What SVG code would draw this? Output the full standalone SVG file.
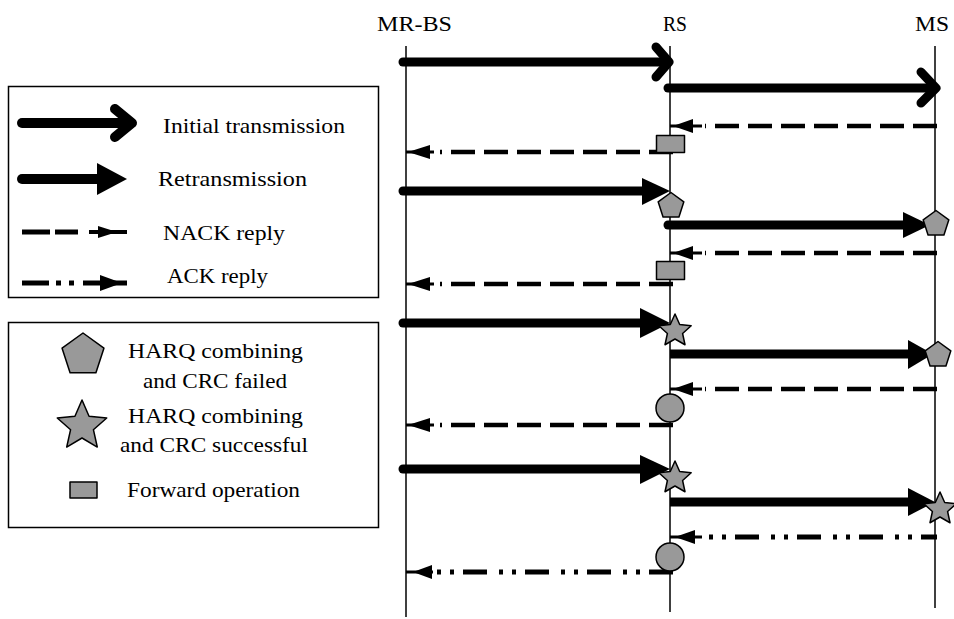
<svg xmlns="http://www.w3.org/2000/svg" width="954" height="619" viewBox="0 0 954 619">
<style>
  .t { font-family: 'Liberation Serif', 'Times New Roman', serif; font-size: 22px; fill: #000; }
  .life { stroke: #000; stroke-width: 1.5; fill: none; }
  .box { stroke: #000; stroke-width: 1.5; fill: #fff; }
  .thick { stroke: #000; stroke-width: 9; fill: none; stroke-linecap: round; stroke-linejoin: round; }
  .thickb { stroke: #000; stroke-width: 9; fill: none; stroke-linecap: butt; }
  .head { fill: #000; stroke: none; }
  .nack { stroke: #000; stroke-width: 4.5; fill: none; stroke-dasharray: 24 9; }
  .ack { stroke: #000; stroke-width: 5; fill: none; stroke-dasharray: 24 9 4 9 4 12; }
  .tail { stroke: #000; stroke-width: 3; fill: none; }
  .thin { stroke: #000; stroke-width: 1.5; fill: none; }
  .sym { fill: #999; stroke: #000; stroke-width: 1.5; stroke-linejoin: round; }
</style>
<defs>
  <polygon id="pent" points="0,-13.5 12.84,-4.17 7.94,10.92 -7.94,10.92 -12.84,-4.17"/>
  <polygon id="star" points="0,-17 4.7,-6.47 16.17,-5.25 7.6,2.47 9.99,13.75 0,8 -9.99,13.75 -7.6,2.47 -16.17,-5.25 -4.7,-6.47"/>
</defs>
<rect width="954" height="619" fill="#fff"/>

<g id="lifeline-mrbs">
  <text class="t" x="377" y="31" textLength="75" lengthAdjust="spacingAndGlyphs">MR-BS</text>
  <line class="life" x1="406" y1="46" x2="406" y2="617"/>
</g>
<g id="lifeline-rs">
  <text class="t" x="663" y="31" textLength="24" lengthAdjust="spacingAndGlyphs">RS</text>
  <line class="life" x1="670" y1="46" x2="670" y2="612"/>
</g>
<g id="lifeline-ms">
  <text class="t" x="915" y="31" textLength="34" lengthAdjust="spacingAndGlyphs">MS</text>
  <line class="life" x1="935" y1="46" x2="935" y2="608"/>
</g>

<g id="legend-arrows">
  <rect class="box" x="8.5" y="86.5" width="370" height="211"/>
  <line class="thick" x1="22" y1="123" x2="130" y2="123" style="stroke-width:10"/>
  <polyline class="thick" points="115,109 132,123 115,137" style="stroke-width:10"/>
  <text class="t" x="163" y="133" textLength="182" lengthAdjust="spacingAndGlyphs">Initial transmission</text>
  <line class="thick" x1="22" y1="179" x2="100" y2="179" style="stroke-width:10"/>
  <polygon class="head" points="97,163 127,179 97,195"/>
  <text class="t" x="158" y="186" textLength="149" lengthAdjust="spacingAndGlyphs">Retransmission</text>
  <line class="thin" x1="22" y1="232" x2="50" y2="232" style="stroke-width:5"/>
  <line class="thin" x1="55" y1="232" x2="78" y2="232" style="stroke-width:5"/>
  <line class="thin" x1="89" y1="232" x2="127" y2="232" style="stroke-width:4"/>
  <polygon class="head" points="98,226 117,232 98,238"/>
  <text class="t" x="163" y="240" textLength="122" lengthAdjust="spacingAndGlyphs">NACK reply</text>
  <line class="thin" x1="22" y1="283" x2="49" y2="283" style="stroke-width:5"/>
  <line class="thin" x1="56" y1="283" x2="61" y2="283" style="stroke-width:5"/>
  <line class="thin" x1="69" y1="283" x2="74" y2="283" style="stroke-width:5"/>
  <line class="thin" x1="83" y1="283" x2="127" y2="283" style="stroke-width:5"/>
  <polygon class="head" points="100,275 122,283 100,291"/>
  <text class="t" x="167" y="283" textLength="101" lengthAdjust="spacingAndGlyphs">ACK reply</text>
</g>

<g id="legend-symbols">
  <rect class="box" x="8.5" y="322.5" width="370" height="205"/>
  <polygon class="sym" points="83,333 103.92,348.2 95.93,372.8 70.07,372.8 62.08,348.2"/>
  <text class="t" x="128" y="358" textLength="175" lengthAdjust="spacingAndGlyphs">HARQ combining</text>
  <text class="t" x="143" y="388" textLength="144" lengthAdjust="spacingAndGlyphs">and CRC failed</text>
  <polygon class="sym" points="82,400 89.05,416.29 106.73,417.97 93.41,429.71 97.28,447.03 82,438 66.72,447.03 70.59,429.71 57.27,417.97 74.95,416.29"/>
  <text class="t" x="128" y="423" textLength="175" lengthAdjust="spacingAndGlyphs">HARQ combining</text>
  <text class="t" x="120" y="452" textLength="188" lengthAdjust="spacingAndGlyphs">and CRC successful</text>
  <rect class="sym" x="70" y="482" width="27" height="16"/>
  <text class="t" x="127" y="497" textLength="173" lengthAdjust="spacingAndGlyphs">Forward operation</text>
</g>

<g id="connectors">
  <line class="thick" x1="403" y1="62" x2="667" y2="62"/>
  <polyline class="thick" points="656,47 669,62 656,77"/>
  <line class="thick" x1="668" y1="88" x2="934" y2="88"/>
  <polyline class="thick" points="921,72 936,88 921,103"/>
  <line class="nack" x1="937" y1="126" x2="705" y2="126"/>
  <line class="tail" x1="670" y1="126" x2="702" y2="126"/>
  <polygon class="head" points="673,126 693,119 693,133"/>
  <line class="nack" x1="673" y1="152" x2="440" y2="152"/>
  <line class="tail" x1="406" y1="152" x2="434" y2="152"/>
  <polygon class="head" points="408,152 430,145 430,159"/>
  <line class="thick" x1="403" y1="191" x2="645" y2="191"/>
  <polygon class="head" points="642,178 670,191 642,205"/>
  <line class="thick" x1="668" y1="225" x2="905" y2="225"/>
  <polygon class="head" points="903,212 930,225 903,238"/>
  <line class="nack" x1="937" y1="253" x2="705" y2="253"/>
  <line class="tail" x1="670" y1="253" x2="702" y2="253"/>
  <polygon class="head" points="673,253 693,246 693,260"/>
  <line class="nack" x1="673" y1="284" x2="440" y2="284"/>
  <line class="tail" x1="406" y1="284" x2="434" y2="284"/>
  <polygon class="head" points="408,284 430,277 430,291"/>
  <line class="thick" x1="403" y1="323" x2="643" y2="323"/>
  <polygon class="head" points="640,308 670,323 640,338"/>
  <line class="thickb" x1="670" y1="354" x2="910" y2="354"/>
  <polygon class="head" points="908,340 933,354 908,369"/>
  <line class="nack" x1="937" y1="389" x2="705" y2="389"/>
  <line class="tail" x1="670" y1="389" x2="702" y2="389"/>
  <polygon class="head" points="673,389 693,382 693,396"/>
  <line class="nack" x1="673" y1="425" x2="440" y2="425"/>
  <line class="tail" x1="406" y1="425" x2="434" y2="425"/>
  <polygon class="head" points="408,425 430,418 430,432"/>
  <line class="thick" x1="403" y1="469" x2="643" y2="469"/>
  <polygon class="head" points="640,455 670,469 640,484"/>
  <line class="thickb" x1="670" y1="502" x2="910" y2="502"/>
  <polygon class="head" points="908,488 935,502 908,516"/>
  <line class="ack" x1="937" y1="537" x2="705" y2="537" style="stroke-dashoffset:8"/>
  <line class="tail" x1="670" y1="537" x2="702" y2="537"/>
  <polygon class="head" points="675,537 695,530 695,544"/>
  <line class="ack" x1="673" y1="572" x2="436" y2="572"/>
  <line class="tail" x1="406" y1="572" x2="433" y2="572"/>
  <polygon class="head" points="413,572 432,565 432,579"/>
</g>

<g id="symbols">
  <rect id="fwd-1" class="sym" x="656.5" y="135.5" width="28" height="17"/>
  <use id="fail-rs-1" href="#pent" class="sym" x="671" y="206"/>
  <use id="fail-ms-1" href="#pent" class="sym" x="936" y="224"/>
  <rect id="fwd-2" class="sym" x="656.5" y="261.5" width="28" height="18"/>
  <use id="ok-rs-1" href="#star" class="sym" x="675" y="331"/>
  <use id="fail-ms-2" href="#pent" class="sym" x="938" y="355"/>
  <circle id="circ-rs-1" class="sym" cx="670" cy="408" r="14"/>
  <use id="ok-rs-2" href="#star" class="sym" x="675" y="478"/>
  <use id="ok-ms-1" href="#star" class="sym" x="940" y="509"/>
  <circle id="circ-rs-2" class="sym" cx="670" cy="557" r="14"/>
</g>
</svg>
